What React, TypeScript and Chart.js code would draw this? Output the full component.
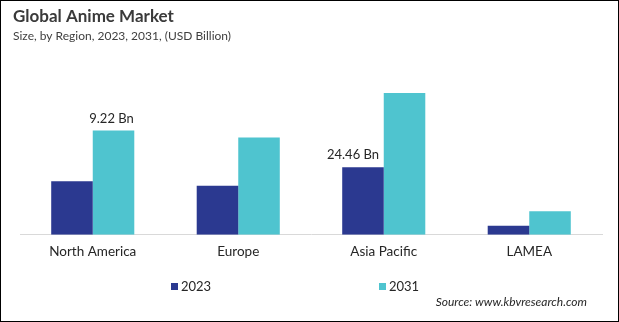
import React, { useEffect, useRef } from "react";
import { Chart, registerables } from "chart.js";

Chart.register(...registerables);

const categories = ["North America", "Europe", "Asia Pacific", "LAMEA"];
const series2023 = [4.73, 4.34, 5.97, 0.8];
const series2031 = [9.22, 8.6, 12.53, 2.07];
const labels2023 = ["", "", "24.46 Bn", ""];
const labels2031 = ["9.22 Bn", "", "", ""];
const seriesNames = ["2023", "2031"];
const titleText = "Global Anime Market";
const subtitleText = "Size, by Region, 2023, 2031, (USD Billion)";
const sourceText = "Source: www.kbvresearch.com";

const COLOR_2023 = "#2b3990";
const COLOR_2031 = "#4fc4cf";
const FONT = "Lato, 'Open Sans', sans-serif";

const decorPlugin = {
  id: "decor",
  afterDraw(chart: any) {
    const ctx = chart.ctx as CanvasRenderingContext2D;
    ctx.save();
    // title
    ctx.fillStyle = "#3a3a3a";
    ctx.textBaseline = "middle";
    ctx.textAlign = "left";
    ctx.font = `bold 17px ${FONT}`;
    ctx.fillText(titleText, 13, 17);
    ctx.font = `12px ${FONT}`;
    ctx.fillStyle = "#404040";
    ctx.fillText(subtitleText, 13, 36);

    // data labels
    ctx.fillStyle = "#262626";
    ctx.font = `13px ${FONT}`;
    ctx.textAlign = "center";
    const sets = [labels2023, labels2031];
    const offs = [-10, -2];
    sets.forEach((lbls, di) => {
      const meta = chart.getDatasetMeta(di);
      lbls.forEach((t, i) => {
        if (!t) return;
        const el = meta.data[i];
        ctx.fillText(t, el.x + offs[di], el.y - 12);
      });
    });

    // legend
    const legend = [
      { name: seriesNames[0], color: COLOR_2023, x: 171 },
      { name: seriesNames[1], color: COLOR_2031, x: 379 },
    ];
    ctx.textAlign = "left";
    ctx.font = `13px ${FONT}`;
    legend.forEach((l) => {
      ctx.fillStyle = l.color;
      ctx.fillRect(l.x, 283, 7, 7);
      ctx.fillStyle = "#262626";
      ctx.fillText(l.name, l.x + 10, 286.5);
    });

    // source
    ctx.font = `italic 12px ${FONT}`;
    ctx.textAlign = "right";
    ctx.fillStyle = "#262626";
    ctx.fillText(sourceText, 587, 302);

    // border
    ctx.strokeStyle = "#000000";
    ctx.lineWidth = 1;
    ctx.strokeRect(0.5, 0.5, chart.width - 1, chart.height - 1);
    ctx.restore();
  },
};

export default function App() {
  const ref = useRef<HTMLCanvasElement>(null);
  useEffect(() => {
    document.body.style.margin = "0";
    const chart = new Chart(ref.current as HTMLCanvasElement, {
      type: "bar",
      data: {
        labels: categories,
        datasets: [
          {
            label: seriesNames[0],
            data: series2023,
            backgroundColor: COLOR_2023,
            categoryPercentage: 0.571,
            barPercentage: 1,
          },
          {
            label: seriesNames[1],
            data: series2031,
            backgroundColor: COLOR_2031,
            categoryPercentage: 0.571,
            barPercentage: 1,
          },
        ],
      },
      options: {
        animation: false,
        responsive: false,
        layout: { padding: { left: 20, right: 17, top: 65, bottom: 61 } },
        plugins: {
          legend: { display: false },
          tooltip: { enabled: false },
          title: { display: false },
        },
        scales: {
          x: {
            grid: { display: false },
            border: { display: true, color: "#d9d9d9", width: 1 },
            ticks: {
              color: "#262626",
              font: { family: FONT, size: 13.5 },
              padding: 1,
              maxRotation: 0,
            },
          },
          y: {
            display: false,
            min: 0,
            max: 15,
          },
        },
      },
      plugins: [decorPlugin],
    });
    return () => chart.destroy();
  }, []);
  return <canvas ref={ref} width={619} height={322} style={{ display: "block" }} />;
}
